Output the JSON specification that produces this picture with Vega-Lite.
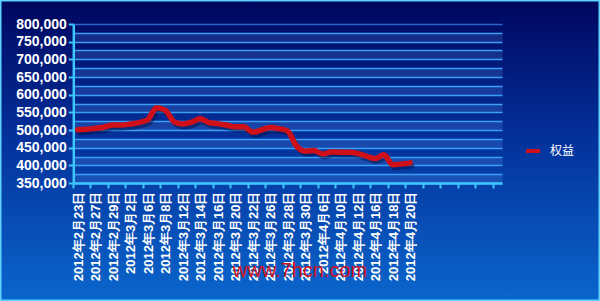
{
  "$schema": "https://vega.github.io/schema/vega-lite/v6.json",
  "width": 600,
  "height": 301,
  "autosize": {"type": "none"},
  "padding": 0,
  "background": "#03309a",
  "view": {
    "fill": {"gradient": "linear", "x1": 0, "y1": 0, "x2": 0, "y2": 1,
      "stops": [{"offset": 0, "color": "#00065e"}, {"offset": 0.45, "color": "#04309a"}, {"offset": 1, "color": "#0a66cc"}]},
    "stroke": "#5fd2ff",
    "strokeWidth": 3
  },
  "title": {
    "text": "www.7hcn.com",
    "orient": "bottom",
    "anchor": "middle",
    "frame": "group",
    "offset": -40,
    "color": "#d4141c",
    "font": "Liberation Sans",
    "fontSize": 20,
    "fontWeight": "normal"
  },
  "data": {
    "values": [
      {"date": "2012年2月23日", "series": "权益", "value": 501000},
      {"date": "2012年2月24日", "series": "权益", "value": 502000},
      {"date": "2012年2月27日", "series": "权益", "value": 505000},
      {"date": "2012年2月28日", "series": "权益", "value": 508000},
      {"date": "2012年2月29日", "series": "权益", "value": 514000},
      {"date": "2012年3月1日", "series": "权益", "value": 514000},
      {"date": "2012年3月2日", "series": "权益", "value": 517000},
      {"date": "2012年3月5日", "series": "权益", "value": 521000},
      {"date": "2012年3月6日", "series": "权益", "value": 529000},
      {"date": "2012年3月7日", "series": "权益", "value": 563000},
      {"date": "2012年3月8日", "series": "权益", "value": 556000},
      {"date": "2012年3月9日", "series": "权益", "value": 524000},
      {"date": "2012年3月12日", "series": "权益", "value": 517000},
      {"date": "2012年3月13日", "series": "权益", "value": 522000},
      {"date": "2012年3月14日", "series": "权益", "value": 532000},
      {"date": "2012年3月15日", "series": "权益", "value": 521000},
      {"date": "2012年3月16日", "series": "权益", "value": 518000},
      {"date": "2012年3月19日", "series": "权益", "value": 514000},
      {"date": "2012年3月20日", "series": "权益", "value": 509000},
      {"date": "2012年3月21日", "series": "权益", "value": 509000},
      {"date": "2012年3月22日", "series": "权益", "value": 494000},
      {"date": "2012年3月23日", "series": "权益", "value": 500000},
      {"date": "2012年3月26日", "series": "权益", "value": 507000},
      {"date": "2012年3月27日", "series": "权益", "value": 504000},
      {"date": "2012年3月28日", "series": "权益", "value": 497000},
      {"date": "2012年3月29日", "series": "权益", "value": 455000},
      {"date": "2012年3月30日", "series": "权益", "value": 440000},
      {"date": "2012年4月5日", "series": "权益", "value": 442000},
      {"date": "2012年4月6日", "series": "权益", "value": 432000},
      {"date": "2012年4月9日", "series": "权益", "value": 438000},
      {"date": "2012年4月10日", "series": "权益", "value": 437000},
      {"date": "2012年4月11日", "series": "权益", "value": 437000},
      {"date": "2012年4月12日", "series": "权益", "value": 434000},
      {"date": "2012年4月13日", "series": "权益", "value": 426000},
      {"date": "2012年4月16日", "series": "权益", "value": 419000},
      {"date": "2012年4月17日", "series": "权益", "value": 430000},
      {"date": "2012年4月18日", "series": "权益", "value": 402000},
      {"date": "2012年4月19日", "series": "权益", "value": 404000},
      {"date": "2012年4月20日", "series": "权益", "value": 407000}
    ]
  },
  "encoding": {
    "x": {
      "field": "date",
      "type": "ordinal",
      "sort": null,
      "bandPosition": 0.5,
      "scale": {
        "type": "band",
        "paddingInner": 0,
        "paddingOuter": 0,
        "range": [73.3, 502],
        "domain": ["2012年2月23日","2012年2月24日","2012年2月27日","2012年2月28日","2012年2月29日","2012年3月1日","2012年3月2日","2012年3月5日","2012年3月6日","2012年3月7日","2012年3月8日","2012年3月9日","2012年3月12日","2012年3月13日","2012年3月14日","2012年3月15日","2012年3月16日","2012年3月19日","2012年3月20日","2012年3月21日","2012年3月22日","2012年3月23日","2012年3月26日","2012年3月27日","2012年3月28日","2012年3月29日","2012年3月30日","2012年4月5日","2012年4月6日","2012年4月9日","2012年4月10日","2012年4月11日","2012年4月12日","2012年4月13日","2012年4月16日","2012年4月17日","2012年4月18日","2012年4月19日","2012年4月20日","_39","_40","_41","_42","_43","_44","_45","_46","_47","_48"]
      },
      "axis": {
        "title": null,
        "orient": "bottom",
        "offset": -118,
        "bandPosition": 0,
        "values": ["2012年2月23日","2012年2月27日","2012年2月29日","2012年3月2日","2012年3月6日","2012年3月8日","2012年3月12日","2012年3月14日","2012年3月16日","2012年3月20日","2012年3月22日","2012年3月26日","2012年3月28日","2012年3月30日","2012年4月6日","2012年4月10日","2012年4月12日","2012年4月16日","2012年4月18日","2012年4月20日","_40","_42","_44","_46","_48"],
        "labelExpr": "indexof(datum.value, '_') === 0 ? '' : datum.value",
        "labelAngle": 270,
        "labelAlign": "right",
        "labelBaseline": "middle",
        "labelPadding": 3,
        "labelOffset": 1,
        "labelOverlap": false,
        "labelBound": false,
        "labelFont": "Liberation Sans",
        "labelFontSize": 13,
        "labelFontWeight": "bold",
        "labelColor": "#ffffff",
        "domainColor": "#3ec6ff",
        "domainWidth": 2.5,
        "tickColor": "#3ec6ff",
        "tickWidth": 2,
        "tickSize": 5,
        "grid": false
      }
    }
  },
  "layer": [
    {
      "mark": {"type": "line", "color": "#000a3c", "opacity": 0.45, "strokeWidth": 5, "interpolate": "monotone", "strokeCap": "round", "strokeJoin": "round", "xOffset": 2, "yOffset": 3},
      "encoding": {
        "y": {
          "field": "value",
          "type": "quantitative",
          "scale": {"domain": [350000, 800000], "range": [183, 24], "nice": false, "zero": false},
          "axis": {
            "title": null,
            "orient": "left",
            "offset": -73.3,
            "values": [362500, 412500, 462500, 512500, 562500, 612500, 662500, 712500, 762500],
            "labels": false,
            "ticks": false,
            "domain": false,
            "grid": true,
            "gridColor": "#7fb8ff",
            "gridOpacity": 0.17,
            "gridWidth": 8.8
          }
        }
      }
    },
    {
      "mark": {"type": "line", "strokeWidth": 5.5, "interpolate": "monotone", "strokeCap": "round", "strokeJoin": "round"},
      "encoding": {
        "y": {
          "field": "value",
          "type": "quantitative",
          "scale": {"domain": [350000, 800000], "range": [183, 24], "nice": false, "zero": false},
          "axis": {
            "title": null,
            "orient": "left",
            "offset": -73.3,
            "values": [350000, 375000, 400000, 425000, 450000, 475000, 500000, 525000, 550000, 575000, 600000, 625000, 650000, 675000, 700000, 725000, 750000, 775000, 800000],
            "labelExpr": "datum.value % 50000 === 0 ? format(datum.value, ',') : ''",
            "labelFont": "Liberation Sans",
            "labelFontSize": 14,
            "labelFontWeight": "bold",
            "labelColor": "#ffffff",
            "labelPadding": 2,
            "domainColor": "#3ec6ff",
            "domainWidth": 2.5,
            "tickColor": "#3ec6ff",
            "tickWidth": 2,
            "tickSize": 5,
            "tickOpacity": {"condition": {"test": "datum.value % 50000 !== 0", "value": 0}, "value": 1},
            "grid": true,
            "gridColor": {"condition": {"test": "datum.value === 800000", "value": "#2c64c8"}, "value": "#3c9ef6"},
            "gridWidth": 1.5,
            "gridOpacity": 1
          }
        },
        "color": {
          "field": "series",
          "type": "nominal",
          "scale": {"range": ["#d01018"]},
          "legend": {
            "title": null,
            "orient": "none",
            "legendX": 524,
            "legendY": 142,
            "symbolType": "stroke",
            "symbolSize": 196,
            "symbolStrokeWidth": 4,
            "labelColor": "#ffffff",
            "labelFont": "Noto Sans CJK SC",
            "labelFontSize": 12,
            "labelOffset": 8
          }
        }
      }
    }
  ],
  "resolve": {"axis": {"y": "independent"}}
}
